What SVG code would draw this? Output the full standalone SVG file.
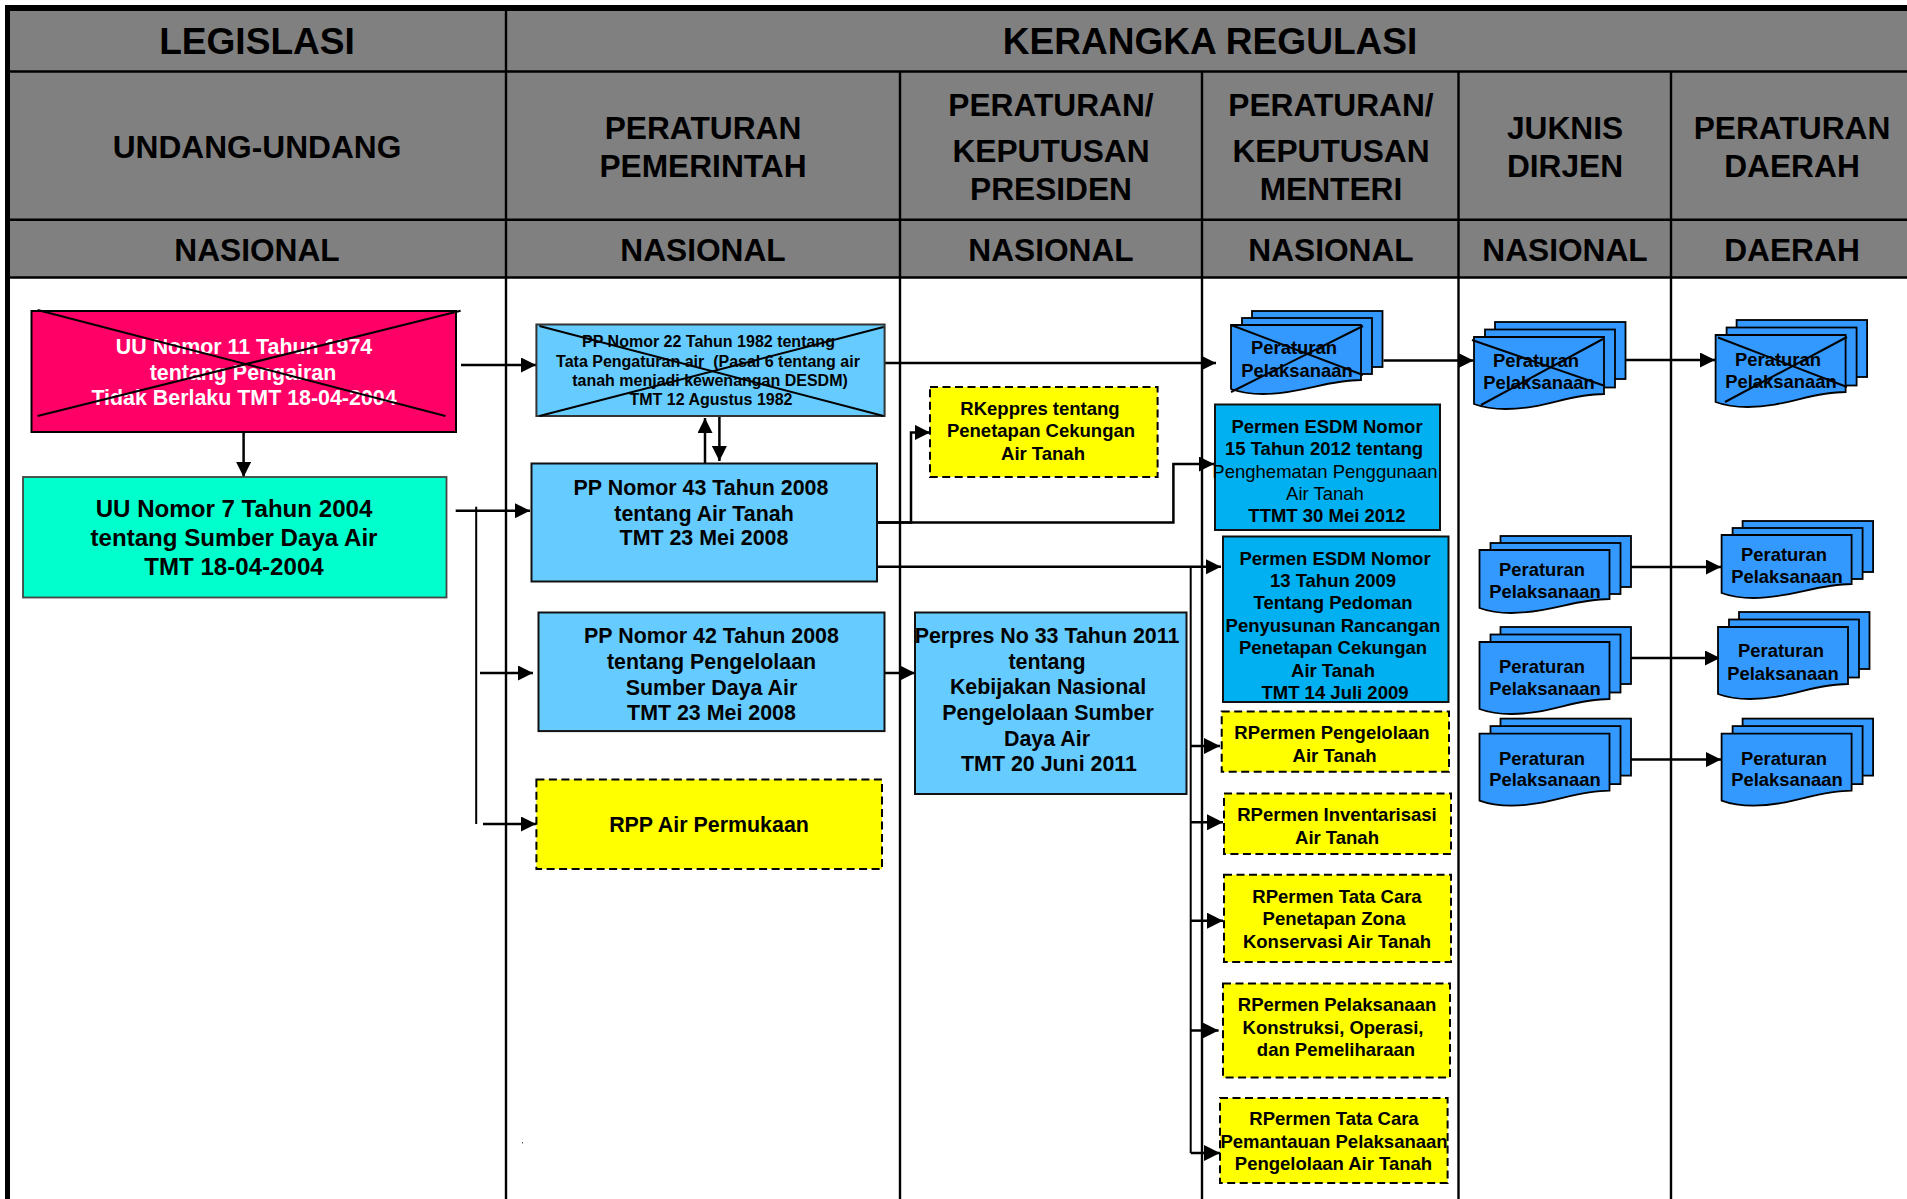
<svg xmlns="http://www.w3.org/2000/svg" width="1907" height="1199" viewBox="0 0 1907 1199">
<style>
text{font-family:"Liberation Sans",Arial,sans-serif;font-weight:700;text-anchor:middle;fill:#000}
.h1{font-size:37.1px}.h2{font-size:31.7px}
.t24{font-size:24.1px}.t21{font-size:21.4px}.t18{font-size:18.5px}.d18{font-size:18.4px}.t16{font-size:16px}
.w{fill:#fff}.n{font-weight:400}
.grid{stroke:#000;stroke-width:2.4;fill:none}
.box{stroke:#111;stroke-width:2}
.dash{fill:#ff0;stroke:#000;stroke-width:2;stroke-dasharray:8 4.5}
.x{stroke:#000;stroke-width:2;fill:none}
.c{stroke:#000;stroke-width:2.5;fill:none}
.a{marker-end:url(#ah)}
.b{marker-end:url(#ahb)}
.doc{fill:#39f;stroke:#000;stroke-width:1.8}
</style>
<defs>
<marker id="ah" markerUnits="userSpaceOnUse" markerWidth="15" markerHeight="15" refX="15" refY="7.5" orient="auto"><path d="M0,0L15,7.5L0,15Z" fill="#000"/></marker>
<marker id="ahb" markerUnits="userSpaceOnUse" markerWidth="16" markerHeight="16" refX="16" refY="8" orient="auto"><path d="M0,0L16,8L0,16Z" fill="#000"/></marker>
<g id="stack">
<rect class="doc" x="21" y="-15" width="130.5" height="57"/>
<rect class="doc" x="11" y="-7.5" width="130" height="58"/>
<path class="doc" d="M0,0H130V57C95,57 70,72 32,72C20,72 8,70 0,67Z"/>
</g>
<g id="stackm">
<rect class="doc" x="21" y="-14" width="130.5" height="56"/>
<rect class="doc" x="11" y="-7" width="130" height="56"/>
<path class="doc" d="M0,0H130V55C95,55 70,69 32,69C20,69 8,67 0,64Z"/>
</g>
<g id="stacks">
<rect class="doc" x="21" y="-14" width="130.5" height="51"/>
<rect class="doc" x="11" y="-7" width="130" height="51"/>
<path class="doc" d="M0,0H130V49C95,49 70,63 32,63C20,63 8,61 0,58Z"/>
</g>
</defs>
<rect width="1907" height="1199" fill="#fff"/>
<g id="header">
<rect x="10" y="10" width="1897" height="267" fill="#808080"/>
<path d="M5,8H1907" stroke="#000" stroke-width="6" fill="none"/>
<path d="M7.5,5V1199" stroke="#000" stroke-width="5" fill="none"/>
<path class="grid" d="M10,71.5H1907M10,219.7H1907M10,277.5H1907"/>
<path class="grid" d="M506,10V1199M900,71.5V1199M1202,71.5V1199M1458.5,71.5V1199M1671,71.5V1199"/>
<text class="h1" x="257" y="53.6">LEGISLASI</text>
<text class="h1" x="1210" y="53.6">KERANGKA REGULASI</text>
<text class="h2" x="257" y="158">UNDANG-UNDANG</text>
<text class="h2" x="703"><tspan x="703" y="138.5">PERATURAN</tspan><tspan x="703" y="176.8">PEMERINTAH</tspan></text>
<text class="h2" x="1051"><tspan x="1051" y="116">PERATURAN/</tspan><tspan x="1051" y="161.5">KEPUTUSAN</tspan><tspan x="1051" y="200">PRESIDEN</tspan></text>
<text class="h2" x="1331"><tspan x="1331" y="116">PERATURAN/</tspan><tspan x="1331" y="161.5">KEPUTUSAN</tspan><tspan x="1331" y="200">MENTERI</tspan></text>
<text class="h2" x="1565"><tspan x="1565" y="138.5">JUKNIS</tspan><tspan x="1565" y="176.8">DIRJEN</tspan></text>
<text class="h2" x="1792"><tspan x="1792" y="138.5">PERATURAN</tspan><tspan x="1792" y="176.8">DAERAH</tspan></text>
<text class="h2" x="257" y="261">NASIONAL</text>
<text class="h2" x="703" y="261">NASIONAL</text>
<text class="h2" x="1051" y="261">NASIONAL</text>
<text class="h2" x="1331" y="261">NASIONAL</text>
<text class="h2" x="1565" y="261">NASIONAL</text>
<text class="h2" x="1792" y="261">DAERAH</text>
</g>
<g id="connectors">
<path class="c a" d="M461,365H536"/>
<path class="c a" d="M243.6,433V477"/>
<path class="c a" d="M455.7,510.7H530"/>
<path class="c" style="stroke-width:2" d="M476.2,506.7V824"/>
<path class="c a" d="M480,673H533"/>
<path class="c a" d="M483,824H536"/>
<path class="c a" d="M705,463V418"/>
<path class="c a" d="M719.4,417V461"/>
<path class="c a" d="M885,363H1216"/>
<path class="c a" d="M878,522.4H911V432.4H930"/>
<path class="c a" d="M878,522.4H1173.4V464H1214"/>
<path class="c a" d="M878,566.8H1221"/>
<path class="c a" d="M885,673H915"/>
<path class="c" style="stroke-width:2" d="M1190.7,568V1153"/>
<path class="c b" d="M1190.7,746H1220"/>
<path class="c b" d="M1190.7,822.3H1223"/>
<path class="c b" d="M1190.7,920.7H1223"/>
<path class="c b" d="M1190.7,1030.5H1218.6"/>
<path class="c b" d="M1190.7,1153H1220"/>
<path class="c a" d="M1383.5,360.5H1473.5"/>
<path class="c a" d="M1626,360H1715"/>
<path class="c a" d="M1631,567H1721"/>
<path class="c a" d="M1631,658H1720"/>
<path class="c a" d="M1631,759.6H1721"/>
</g>
<g id="uu11">
<rect x="31.5" y="311" width="424.5" height="121" fill="#f06" stroke="#000" stroke-width="2"/>
<text class="t21 w"><tspan x="244" y="354">UU Nomor 11 Tahun 1974</tspan><tspan x="243" y="380">tentang Pengairan</tspan><tspan x="244" y="405">Tidak Berlaku TMT 18-04-2004</tspan></text>
<path class="x" d="M37.6,310L445.5,416M37.6,416L460.6,310.7"/>
</g>
<g id="uu7">
<rect x="23" y="477" width="423.5" height="120.5" fill="#0fc" stroke="#444" stroke-width="1.8"/>
<text class="t24"><tspan x="234" y="517.4">UU Nomor 7 Tahun 2004</tspan><tspan x="234" y="545.5">tentang Sumber Daya Air</tspan><tspan x="234" y="575">TMT 18-04-2004</tspan></text>
</g>
<g id="pp22">
<rect class="box" x="536.4" y="324.5" width="348.2" height="91.5" fill="#6cf" style="stroke:#333"/>
<text class="t16"><tspan x="708.5" y="346.7">PP Nomor 22 Tahun 1982 tentang</tspan><tspan x="708" y="366.6">Tata Pengaturan air &#160;(Pasal 6 tentang air</tspan><tspan x="710" y="385.8">tanah menjadi kewenangan DESDM)</tspan><tspan x="711" y="405">TMT 12 Agustus 1982</tspan></text>
<path class="x" d="M539.4,326L883.6,416M539.4,416L883.6,327"/>
</g>
<g id="pp43">
<rect class="box" x="531.5" y="463.5" width="345.5" height="118" fill="#6cf"/>
<text class="t21"><tspan x="701" y="494.5">PP Nomor 43 Tahun 2008</tspan><tspan x="704" y="520.5">tentang Air Tanah</tspan><tspan x="704" y="544.6">TMT 23 Mei 2008</tspan></text>
</g>
<g id="pp42">
<rect class="box" x="538.5" y="612.5" width="346" height="118.6" fill="#6cf"/>
<text class="t21"><tspan x="711.5" y="643">PP Nomor 42 Tahun 2008</tspan><tspan x="711.5" y="669">tentang Pengelolaan</tspan><tspan x="711.5" y="694.5">Sumber Daya Air</tspan><tspan x="711.5" y="720">TMT 23 Mei 2008</tspan></text>
</g>
<g id="rpp">
<rect class="dash" x="536.4" y="779.5" width="345.6" height="89.5"/>
<text class="t21" x="709" y="832">RPP Air Permukaan</text>
</g>
<g id="rkeppres">
<rect class="dash" x="930" y="387" width="227.6" height="90"/>
<text class="t18"><tspan x="1040" y="415">RKeppres tentang</tspan><tspan x="1041" y="437">Penetapan Cekungan</tspan><tspan x="1043" y="460">Air Tanah</tspan></text>
</g>
<g id="perpres">
<rect class="box" x="915" y="612.5" width="271.5" height="181.5" fill="#6cf"/>
<text class="t21"><tspan x="1047" y="643">Perpres No 33 Tahun 2011</tspan><tspan x="1047" y="669">tentang</tspan><tspan x="1048" y="693.5">Kebijakan Nasional</tspan><tspan x="1048" y="720">Pengelolaan Sumber</tspan><tspan x="1047" y="745.8">Daya Air</tspan><tspan x="1049" y="771">TMT 20 Juni 2011</tspan></text>
</g>
<g id="permen15">
<rect class="box" x="1215" y="404.5" width="225" height="125.5" fill="#00b0f0"/>
<text class="t18"><tspan x="1327" y="432.6">Permen ESDM Nomor</tspan><tspan x="1324" y="455.4">15 Tahun 2012 tentang</tspan><tspan class="n" x="1325" y="477.6">Penghematan Penggunaan</tspan><tspan class="n" x="1325" y="500">Air Tanah</tspan><tspan x="1327" y="522">TTMT 30 Mei 2012</tspan></text>
</g>
<g id="permen13">
<rect class="box" x="1223" y="536.5" width="225.5" height="165.5" fill="#00b0f0"/>
<text class="t18"><tspan x="1335" y="565">Permen ESDM Nomor</tspan><tspan x="1333" y="586.5">13 Tahun 2009</tspan><tspan x="1333" y="608.5">Tentang Pedoman</tspan><tspan x="1333" y="631.5">Penyusunan Rancangan</tspan><tspan x="1333" y="653.7">Penetapan Cekungan</tspan><tspan x="1333" y="676.7">Air Tanah</tspan><tspan x="1335" y="698.5">TMT 14 Juli 2009</tspan></text>
</g>
<g id="rpermen1">
<rect class="dash" x="1221.7" y="711.4" width="227.3" height="60.4"/>
<text class="t18"><tspan x="1332" y="739.3">RPermen Pengelolaan</tspan><tspan x="1334.6" y="762.3">Air Tanah</tspan></text>
</g>
<g id="rpermen2">
<rect class="dash" x="1224" y="793.6" width="227" height="60.4"/>
<text class="t18"><tspan x="1337" y="820.6">RPermen Inventarisasi</tspan><tspan x="1337" y="843.5">Air Tanah</tspan></text>
</g>
<g id="rpermen3">
<rect class="dash" x="1224" y="874.8" width="227" height="87.2"/>
<text class="t18"><tspan x="1337" y="902.5">RPermen Tata Cara</tspan><tspan x="1334" y="925">Penetapan Zona</tspan><tspan x="1337" y="947.6">Konservasi Air Tanah</tspan></text>
</g>
<g id="rpermen4">
<rect class="dash" x="1223" y="983.5" width="227" height="94.1"/>
<text class="t18"><tspan x="1337" y="1010.8">RPermen Pelaksanaan</tspan><tspan x="1333" y="1034">Konstruksi, Operasi,</tspan><tspan x="1336" y="1056">dan Pemeliharaan</tspan></text>
</g>
<g id="rpermen5">
<rect class="dash" x="1220" y="1098" width="227.6" height="85"/>
<text class="t18"><tspan x="1334" y="1124.8">RPermen Tata Cara</tspan><tspan x="1334" y="1147.8">Pemantauan Pelaksanaan</tspan><tspan x="1333.5" y="1170">Pengelolaan Air Tanah</tspan></text>
</g>
<g id="doc1">
<use href="#stackm" x="1231" y="325"/>
<text class="d18"><tspan x="1294" y="354">Peraturan</tspan><tspan x="1297" y="377">Pelaksanaan</tspan></text>
<path class="x" d="M1231,325L1363,375M1231,392L1363,326"/>
</g>
<g id="doc2">
<use href="#stack" x="1474" y="337"/>
<text class="d18"><tspan x="1536" y="367">Peraturan</tspan><tspan x="1539" y="389">Pelaksanaan</tspan></text>
<path class="x" d="M1472,340L1605,386M1481,405L1603,339"/>
</g>
<g id="doc3">
<use href="#stack" x="1715.6" y="335"/>
<text class="d18"><tspan x="1778" y="366">Peraturan</tspan><tspan x="1781" y="388">Pelaksanaan</tspan></text>
<path class="x" d="M1718,337.5L1847,387M1725,402L1847,337"/>
</g>
<g id="doc4">
<use href="#stacks" x="1479.5" y="550"/>
<text class="d18"><tspan x="1542" y="576">Peraturan</tspan><tspan x="1545" y="598">Pelaksanaan</tspan></text>
</g>
<g id="doc5">
<use href="#stack" x="1479.5" y="642"/>
<text class="d18"><tspan x="1542" y="672.7">Peraturan</tspan><tspan x="1545" y="695">Pelaksanaan</tspan></text>
</g>
<g id="doc6">
<use href="#stack" x="1479.5" y="733.6"/>
<text class="d18"><tspan x="1542" y="764.6">Peraturan</tspan><tspan x="1545" y="786">Pelaksanaan</tspan></text>
</g>
<g id="doc7">
<use href="#stacks" x="1721.6" y="535"/>
<text class="d18"><tspan x="1784" y="560.6">Peraturan</tspan><tspan x="1787" y="583">Pelaksanaan</tspan></text>
</g>
<g id="doc8">
<use href="#stack" x="1718" y="627"/>
<text class="d18"><tspan x="1781" y="657.4">Peraturan</tspan><tspan x="1783" y="679.6">Pelaksanaan</tspan></text>
</g>
<g id="doc9">
<use href="#stack" x="1721.6" y="733.6"/>
<text class="d18"><tspan x="1784" y="764.6">Peraturan</tspan><tspan x="1787" y="786">Pelaksanaan</tspan></text>
</g>
<rect x="522" y="1142" width="1" height="1.5" fill="#555"/>
</svg>
